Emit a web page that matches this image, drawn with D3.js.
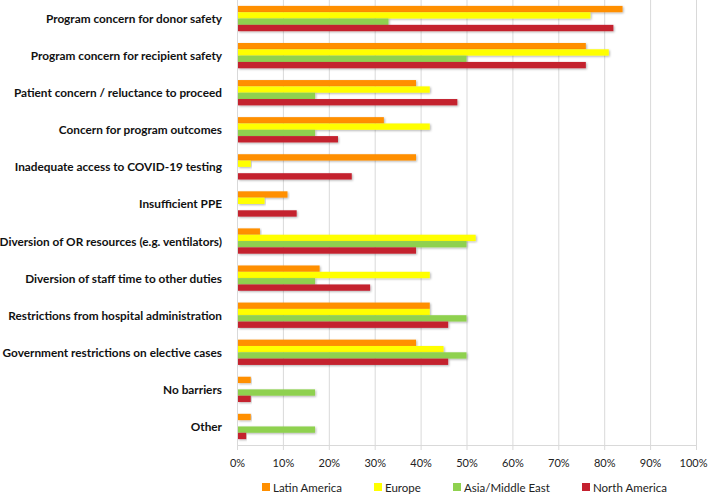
<!DOCTYPE html>
<html><head><meta charset="utf-8">
<script src="https://cdnjs.cloudflare.com/ajax/libs/d3/7.8.5/d3.min.js"></script>
<style>body{margin:0;background:#fff}svg{display:block}</style>
</head><body><svg id="c" width="709" height="494"></svg>
<script>
const categories = ["Program concern for donor safety","Program concern for recipient safety","Patient concern / reluctance to proceed","Concern for program outcomes","Inadequate access to COVID-19 testing","Insufficient PPE","Diversion of OR resources (e.g. ventilators)","Diversion of staff time to other duties","Restrictions from hospital administration","Government restrictions on elective cases","No barriers","Other"];
const seriesNames = ["Latin America","Europe","Asia/Middle East","North America"];
const latinAmerica = [84,76,39,32,39,11,5,18,42,39,3,3];
const europe = [77,81,42,42,3,6,52,42,42,45,0,0];
const asiaMiddleEast = [33,50,17,17,0,0,50,17,50,50,17,17];
const northAmerica = [82,76,48,22,25,13,39,29,46,46,3,2];
const tickValues = [0,0.1,0.2,0.3,0.4,0.5,0.6,0.7,0.8,0.9,1.0];
const colors = ["#FF8F00","#FFFF00","#8FD14F","#C4212F"];

const series = [latinAmerica, europe, asiaMiddleEast, northAmerica];
const svg = d3.select("#c");
const margin = {left:237, right:13, top:0, bottom:49};
const W = 709, H = 494;
const x = d3.scaleLinear().domain([0,1]).range([margin.left, W - margin.right]);
const y = d3.scaleBand().domain(categories).range([margin.top, H - margin.bottom]).paddingInner(0.318).paddingOuter(0.159);
const y1 = d3.scaleBand().domain(seriesNames).range([0, y.bandwidth()]);

const defs = svg.append("defs");
const f = defs.append("filter").attr("id","sh").attr("x","-5%").attr("y","-30%").attr("width","110%").attr("height","180%");
f.append("feDropShadow").attr("dx",1).attr("dy",1).attr("stdDeviation",0.8).attr("flood-color","#000").attr("flood-opacity",0.3);

// gridlines
svg.append("g").selectAll("line").data(tickValues).join("line")
  .attr("x1", d=>x(d)+0.5).attr("x2", d=>x(d)+0.5)
  .attr("y1", margin.top).attr("y2", H - margin.bottom)
  .attr("stroke", "#D9D9D9").attr("stroke-width", 1);

// bars
const g = svg.append("g");
categories.forEach((c, i) => {
  series.forEach((s, j) => {
    if (s[i] <= 0) return;
    g.append("rect")
      .attr("x", x(0)+1).attr("y", y(c) + y1(seriesNames[j]))
      .attr("width", x(s[i]/100) - x(0) - 1).attr("height", y1.bandwidth())
      .attr("fill", colors[j]).attr("filter","url(#sh)");
  });
});

// axes
const xAxis = d3.axisBottom(x).tickValues(tickValues).tickFormat(d3.format(".0%")).tickSize(5).tickSizeOuter(0);
const ax = svg.append("g").attr("transform", `translate(0,${H - margin.bottom})`).call(xAxis);
ax.select(".domain").attr("stroke","#D9D9D9");
ax.selectAll(".tick line").attr("stroke","#D9D9D9");
ax.selectAll(".tick text").attr("font-family","Lato, 'Open Sans', sans-serif").attr("font-size",11).attr("fill","#222").attr("dy","1.25em")
  .attr("dx", d => d === 1 ? -3 : 0);

svg.append("line").attr("x1",x(0)+0.5).attr("x2",x(0)+0.5).attr("y1",margin.top).attr("y2",H-margin.bottom).attr("stroke","#D9D9D9");

// category labels
svg.append("g").selectAll("text").data(categories).join("text")
  .attr("x", 222).attr("y", d => y(d) + y.bandwidth()/2)
  .attr("text-anchor","end").attr("dominant-baseline","central")
  .attr("font-family","Lato, 'Open Sans', sans-serif").attr("font-weight","bold").attr("font-size",11.8).attr("fill","#111")
  .text(d=>d);

// legend
const legX = [262, 374, 453, 582];
const leg = svg.append("g");
seriesNames.forEach((n, j) => {
  leg.append("rect").attr("x", legX[j]).attr("y", 483).attr("width", 8).attr("height", 8).attr("fill", colors[j]);
  leg.append("text").attr("x", legX[j] + 11).attr("y", 487).attr("dominant-baseline","central")
    .attr("font-family","Lato, 'Open Sans', sans-serif").attr("font-size",11.5).attr("fill","#222").text(n);
});
</script></body></html>
